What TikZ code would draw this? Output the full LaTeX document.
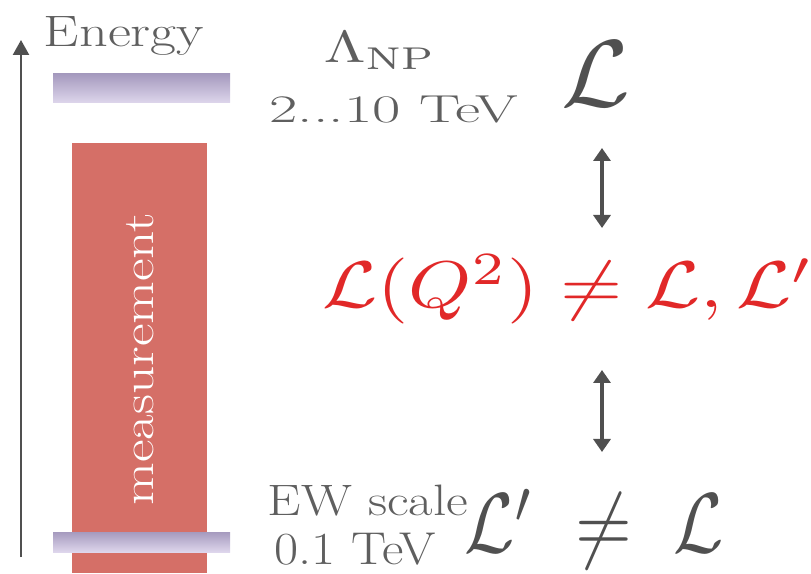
\documentclass[tikz,border=0pt]{standalone}
\usetikzlibrary{arrows.meta}
\definecolor{txtgray}{RGB}{95,95,95}
\definecolor{arrgray}{RGB}{80,80,80}
\definecolor{measred}{RGB}{213,111,103}
\definecolor{bartop}{RGB}{165,154,190}
\definecolor{barbot}{RGB}{222,214,236}
\definecolor{formred}{RGB}{225,40,40}
\tikzset{
  lbl/.style={inner sep=0pt, anchor=base, text=txtgray},
  mth/.style={inner sep=0pt, anchor=base, text=arrgray},
  dbl/.style={arrgray, line width=3.5pt, {Triangle[width=17pt,length=13pt]}-{Triangle[width=17pt,length=13pt]}},
  bar/.style={top color=bartop, bottom color=barbot, draw=none},
}
\newcommand{\wide}[2]{\scalebox{#1}[1]{#2}}
\begin{document}
\begin{tikzpicture}[x=1pt,y=1pt]
\useasboundingbox (0,0) rectangle (811,573);
% axis
\coordinate (axb) at (21,16);
\coordinate (axt) at (21,533);
\draw[arrgray, line width=2.4pt, -{Triangle[width=16pt,length=15pt]}] (axb) -- (axt);
\node[lbl, font=\fontsize{44}{48}\selectfont] (energy) at (124,526) {\wide{1.28}{Energy}};
% red measurement box
\fill[measred] (72,0) rectangle (207,430);
\node[inner sep=0pt, text=white, rotate=90, font=\fontsize{44}{48}\selectfont] (meas) at (140,214) {\wide{1.26}{measurement}};
% bars
\node[bar, minimum width=177pt, minimum height=29pt, inner sep=0pt] (topbar) at (141.5,484.5) {};
\node[bar, minimum width=177pt, minimum height=20pt, inner sep=0pt] (botbar) at (141.5,31) {};
% labels
\node[lbl] (lnp) at (380,510) {\scalebox{6.0}[4.5]{$\Lambda_{\mathrm{NP}}$}};
\node[lbl, font=\fontsize{39}{44}\selectfont] (tev) at (394,450) {\wide{1.58}{2...10 TeV}};
\node[lbl, font=\fontsize{44}{48}\selectfont] (ew) at (368,58) {\wide{1.21}{EW scale}};
\node[lbl, font=\fontsize{46}{50}\selectfont] (ewv) at (355,9) {\wide{1.14}{0.1 TeV}};
% math
\node[mth] (Ltop) at (596,466) {\scalebox{10}[9.5]{$\mathcal{L}$}};
\node[mth, text=formred] (form) at (568,265) {\scalebox{8.0}[6.6]{$\mathcal{L}(Q^2)\neq\mathcal{L},\mathcal{L}'$}};
\node[mth] (Lbot) at (594,20) {\scalebox{7.3}[8.5]{$\mathcal{L}'\;\neq\;\mathcal{L}$}};
% arrows
\coordinate (a1t) at (602,425);
\coordinate (a1b) at (602,345);
\coordinate (a2t) at (602,203);
\coordinate (a2b) at (602,121);
\draw[dbl] (a1b) -- (a1t);
\draw[dbl] (a2b) -- (a2t);
\end{tikzpicture}
\end{document}
